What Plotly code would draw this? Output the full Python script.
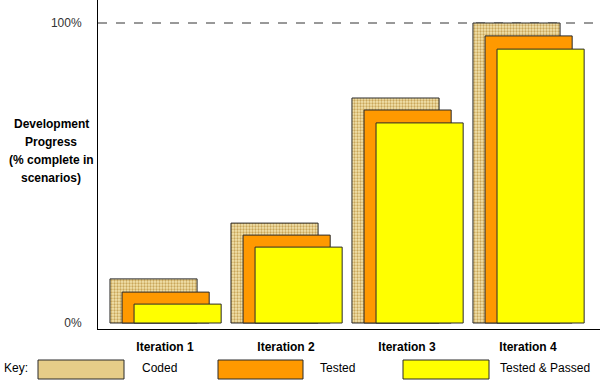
import plotly.graph_objects as go

categories = ["Iteration 1", "Iteration 2", "Iteration 3", "Iteration 4"]
coded = [14.7, 33.3, 75.0, 100.0]
tested = [10.3, 29.3, 71.0, 95.7]
passed = [6.3, 25.3, 66.7, 91.3]
y_tick_vals = [0, 100]
y_tick_text = ["0%", "100%"]
key_labels = ["Coded", "Tested", "Tested & Passed"]
title_lines = ["Development", "Progress", "(% complete in", "scenarios)"]

W, H = 600, 386
L, R, T, B = 98, 0, 0, 57
FONT = "Liberation Sans, Arial, sans-serif"
TAN = "#E6CD88"
ORANGE = "#FF9900"
YELLOW = "#FFFF00"
EDGE = "#2a2a2a"

def px(x):
    return (x - L) / (W - L - R)

def py(y):
    return (H - B - y) / (H - T - B)

fig = go.Figure()
bw = 0.72
fig.add_trace(go.Bar(x=categories, y=coded, width=bw, offset=-0.455,
                     marker=dict(color=TAN, line=dict(color=EDGE, width=1),
                                 pattern=dict(shape=".", fgcolor="#C9A65A", bgcolor="#F3E4AE",
                                              size=3, solidity=0.45, fillmode="replace")),
                     showlegend=False, hoverinfo="skip"))
fig.add_trace(go.Bar(x=categories, y=tested, width=bw, offset=-0.355,
                     marker=dict(color=ORANGE, line=dict(color=EDGE, width=1)),
                     showlegend=False, hoverinfo="skip"))
fig.add_trace(go.Bar(x=categories, y=passed, width=bw, offset=-0.256,
                     marker=dict(color=YELLOW, line=dict(color=EDGE, width=1)),
                     showlegend=False, hoverinfo="skip"))

fig.add_hline(y=100, line=dict(color="#333333", width=1, dash="dash"), layer="below")

# y-axis title lines
for i, t in enumerate(title_lines):
    fig.add_annotation(text=f"<b>{t}</b>", xref="paper", yref="paper",
                       x=px(51), y=py(124 + i * 18), showarrow=False,
                       xanchor="center", yanchor="middle",
                       font=dict(family=FONT, size=12, color="#000000"))

# key
fig.add_annotation(text="Key:", xref="paper", yref="paper", x=px(2), y=py(368),
                   showarrow=False, xanchor="left", yanchor="middle",
                   font=dict(family=FONT, size=12, color="#000000"))
swatches = [(38, 124, TAN), (218, 303, ORANGE), (403, 489, YELLOW)]
text_x = [140, 318, 498]
for (x0, x1, c), lab, tx in zip(swatches, key_labels, text_x):
    fig.add_shape(type="rect", xref="paper", yref="paper",
                  x0=px(x0), x1=px(x1), y0=py(379), y1=py(360),
                  fillcolor=c, line=dict(color=EDGE, width=1))
    fig.add_annotation(text=lab, xref="paper", yref="paper", x=px(tx), y=py(368),
                       showarrow=False, xanchor="left", yanchor="middle",
                       font=dict(family=FONT, size=12, color="#000000"))

fig.update_layout(
    width=W, height=H, barmode="overlay",
    margin=dict(l=L, r=R, t=T, b=B),
    paper_bgcolor="white", plot_bgcolor="white",
    font=dict(family=FONT, size=12, color="#000000"),
    xaxis=dict(type="category", range=[-0.554, 3.595], showgrid=False,
               showline=True, linecolor="#000000", linewidth=1,
               ticks="", ticklabelstandoff=7,
               tickfont=dict(family=FONT, size=12, color="#000000", weight="bold"),
               zeroline=False),
    yaxis=dict(range=[-2, 107.67], showgrid=False, zeroline=False,
               showline=True, linecolor="#000000", linewidth=1,
               tickvals=y_tick_vals, ticktext=y_tick_text, ticks="",
               ticklabelstandoff=13,
               tickfont=dict(family=FONT, size=12, color="#333333")),
)

fig.write_html("out.html", config={"displayModeBar": False},
               post_script="document.body.style.margin='0px';document.body.style.overflow='hidden';")
